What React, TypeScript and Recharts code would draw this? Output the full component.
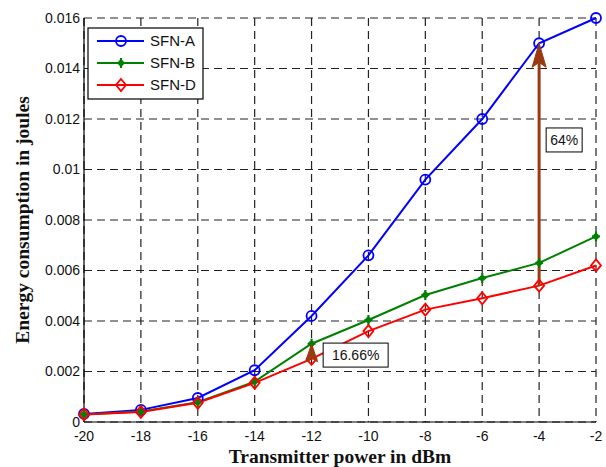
import React from 'react';
import { LineChart, Line, XAxis, YAxis, CartesianGrid, ReferenceLine, ReferenceDot } from 'recharts';

const power = [-20, -18, -16, -14, -12, -10, -8, -6, -4, -2];
const sfnA = [0.00032, 0.00048, 0.00095, 0.00205, 0.0042, 0.0066, 0.0096, 0.012, 0.015, 0.016];
const sfnB = [0.0003, 0.00042, 0.00078, 0.0016, 0.0031, 0.00404, 0.00503, 0.0057, 0.0063, 0.00735];
const sfnD = [0.0003, 0.0004, 0.00076, 0.00155, 0.0025, 0.0036, 0.00445, 0.0049, 0.0054, 0.0062];
const yTicks = [0, 0.002, 0.004, 0.006, 0.008, 0.01, 0.012, 0.014, 0.016];
const seriesNames = ['SFN-A', 'SFN-B', 'SFN-D'];
const seriesColors = ['#0000ff', '#008000', '#ff0000'];

// annotations (data coordinates)
const bigGap = { x: -4, from: 0.0054, to: 0.015, label: '64%', lx: -3.12, ly: 0.01117 };
const smallGap = { x: -12, from: 0.0025, to: 0.0031, label: '16.66%', lx: -10.45, ly: 0.00265 };

const data = power.map((p, i) => ({ p, a: sfnA[i], b: sfnB[i], d: sfnD[i] }));

const brown = '#9a3a10';
const tickFont = { fontFamily: '"Liberation Sans", Arial, sans-serif', fontSize: 14, fill: '#111' };
const labelFont = { fontFamily: '"Liberation Serif", serif', fontSize: 19.5, fontWeight: 700, fill: '#111' };

const Circle = ({ cx, cy, color }: any) => (
  <circle cx={cx} cy={cy} r={5} fill="none" stroke={color} strokeWidth={1.8} />
);
const Star = ({ cx, cy, color }: any) => (
  <g stroke={color} strokeWidth={2.2}>
    <line x1={cx - 4} y1={cy} x2={cx + 4} y2={cy} />
    <line x1={cx} y1={cy - 5} x2={cx} y2={cy + 5} />
    <circle cx={cx} cy={cy} r={1.8} fill={color} />
  </g>
);
const Diamond = ({ cx, cy, color }: any) => (
  <path d={`M${cx} ${cy - 6}L${cx + 5} ${cy}L${cx} ${cy + 6}L${cx - 5} ${cy}Z`} fill="none" stroke={color} strokeWidth={1.8} />
);
const markers = [Circle, Star, Diamond];

const dot = (idx: number) => (props: any) => {
  const M = markers[idx];
  if (props.cx == null || props.cy == null) return <g key={props.key} />;
  return <M key={props.key} cx={props.cx} cy={props.cy} color={seriesColors[idx]} />;
};

const arrowHead = (w: number, h: number) => (props: any) => {
  const { cx, cy } = props;
  return (
    <path
      d={`M${cx} ${cy}L${cx + w / 2} ${cy + h}L${cx} ${cy + h * 0.8}L${cx - w / 2} ${cy + h}Z`}
      fill={brown}
      stroke={brown}
      strokeWidth={1}
    />
  );
};

const boxLabel = (text: string, w: number) => (props: any) => {
  const { cx, cy } = props;
  return (
    <g>
      <rect x={cx - w / 2} y={cy - 12} width={w} height={24} fill="#fff" stroke="#000" strokeWidth={1} />
      <text x={cx} y={cy + 5} textAnchor="middle" {...tickFont}>{text}</text>
    </g>
  );
};

const Legend = () => (
  <svg width={118} height={74} style={{ position: 'absolute', left: 87, top: 27 }}>
    <rect x={1} y={1} width={115} height={71} fill="#fff" stroke="#000" strokeWidth={1.2} />
    {seriesNames.map((name, i) => {
      const y = 14 + i * 22;
      const M = markers[i];
      return (
        <g key={name}>
          <line x1={10} y1={y} x2={57} y2={y} stroke={seriesColors[i]} strokeWidth={2} />
          <M cx={34} cy={y} color={seriesColors[i]} />
          <text x={63} y={y + 5} {...tickFont} fontSize={15}>{name}</text>
        </g>
      );
    })}
  </svg>
);

export default function App() {
  return (
    <div style={{ position: 'absolute', left: 0, top: 0, width: 606, height: 467, background: '#fff' }}>
      <LineChart width={606} height={467} data={data} margin={{ top: 18, right: 10, bottom: 0, left: 0 }}>
        <CartesianGrid stroke="#222" strokeDasharray="8 5" strokeWidth={1.2} />
        <XAxis
          dataKey="p"
          type="number"
          domain={[-20, -2]}
          ticks={power}
          height={45}
          tickLine={false}
          tickSize={6}
          tickMargin={3}
          axisLine={{ stroke: '#000', strokeWidth: 1.2 }}
          tick={tickFont}
          label={{ value: 'Transmitter power in dBm', position: 'insideBottom', offset: 4, style: labelFont }}
        />
        <XAxis xAxisId="top" orientation="top" dataKey="p" type="number" domain={[-20, -2]} ticks={power} height={0} tick={false} tickLine={false} axisLine={{ stroke: '#000', strokeWidth: 1.2 }} />
        <YAxis
          type="number"
          domain={[0, 0.016]}
          ticks={yTicks}
          width={84}
          tickLine={false}
          tickSize={4}
          tickMargin={0}
          axisLine={{ stroke: '#000', strokeWidth: 1.2 }}
          tick={tickFont}
          tickFormatter={(v: number) => (v === 0 ? '0' : String(Number(v.toFixed(3))))}
          label={{ value: 'Energy consumption in joules', angle: -90, position: 'insideLeft', offset: 22, style: { ...labelFont, textAnchor: 'middle' } }}
        />
        <YAxis yAxisId="right" orientation="right" type="number" domain={[0, 0.016]} ticks={yTicks} width={0} tick={false} tickLine={false} axisLine={{ stroke: '#000', strokeWidth: 1.2 }} />
        <Line dataKey="a" name={seriesNames[0]} stroke={seriesColors[0]} strokeWidth={2} dot={dot(0)} isAnimationActive={false} />
        <Line dataKey="b" name={seriesNames[1]} stroke={seriesColors[1]} strokeWidth={2} dot={dot(1)} isAnimationActive={false} />
        <Line dataKey="d" name={seriesNames[2]} stroke={seriesColors[2]} strokeWidth={2} dot={dot(2)} isAnimationActive={false} />
        <ReferenceLine segment={[{ x: bigGap.x, y: bigGap.from }, { x: bigGap.x, y: bigGap.to - 0.0008 }]} stroke={brown} strokeWidth={3} />
        <ReferenceDot x={bigGap.x} y={bigGap.to} shape={arrowHead(14, 24)} />
        <ReferenceDot x={smallGap.x} y={smallGap.to} shape={arrowHead(12, 18)} />
        <ReferenceDot x={bigGap.lx} y={bigGap.ly} shape={boxLabel(bigGap.label, 36)} />
        <ReferenceDot x={smallGap.lx} y={smallGap.ly} shape={boxLabel(smallGap.label, 65)} />
      </LineChart>
      <Legend />
    </div>
  );
}
